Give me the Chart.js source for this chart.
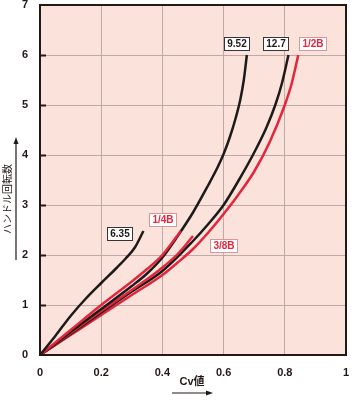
<!DOCTYPE html>
<html>
<head>
<meta charset="utf-8">
<script src="https://cdn.jsdelivr.net/npm/chart.js@4.4.1/dist/chart.umd.min.js"></script>
<style>
  html, body { margin: 0; padding: 0; background: #ffffff; }
  #wrap { width: 352px; height: 400px; position: relative; }
</style>
</head>
<body>
<div id="wrap"><canvas id="chart"></canvas></div>
<script>
// tick values
var cvTicks = [0, 0.2, 0.4, 0.6, 0.8, 1];
var turnTicks = [0, 1, 2, 3, 4, 5, 6, 7];

// Cv value vs handle turns
var cv635 = [0, 0.05, 0.1, 0.15, 0.2, 0.25, 0.28, 0.31, 0.338];
var turns635 = [0, 0.38, 0.78, 1.13, 1.44, 1.74, 1.93, 2.15, 2.48];

var cvQuarter = [0, 0.1, 0.2, 0.3, 0.35, 0.4, 0.46];
var turnsQuarter = [0, 0.5, 1.0, 1.47, 1.72, 2.0, 2.48];

var cv952 = [0, 0.1, 0.2, 0.3, 0.35, 0.4, 0.45, 0.5, 0.55, 0.58, 0.6, 0.62, 0.64, 0.655, 0.666, 0.676];
var turns952 = [0, 0.46, 0.92, 1.38, 1.63, 1.95, 2.38, 2.85, 3.4, 3.75, 4.02, 4.35, 4.75, 5.12, 5.5, 6.0];

var cvThreeEighth = [0, 0.1, 0.2, 0.3, 0.39, 0.45, 0.5];
var turnsThreeEighth = [0, 0.44, 0.88, 1.3, 1.7, 2.02, 2.38];

var cv127 = [0, 0.1, 0.2, 0.3, 0.4, 0.5, 0.55, 0.6, 0.65, 0.7, 0.74, 0.77, 0.79, 0.812];
var turns127 = [0, 0.42, 0.85, 1.27, 1.68, 2.28, 2.62, 3.0, 3.5, 4.05, 4.55, 5.02, 5.42, 6.0];

var cvHalf = [0, 0.1, 0.2, 0.3, 0.4, 0.45, 0.5, 0.55, 0.6, 0.65, 0.7, 0.75, 0.8, 0.822, 0.844];
var turnsHalf = [0, 0.4, 0.8, 1.2, 1.6, 1.85, 2.12, 2.45, 2.82, 3.22, 3.67, 4.25, 5.0, 5.42, 6.0];

// curve labels: text, anchor in data units (cv, turns)
var labelTexts = ['9.52', '12.7', '1/2B', '6.35', '1/4B', '3/8B'];
var labelCv = [0.641, 0.770, 0.892, 0.261, 0.400, 0.601];
var labelTurns = [6.23, 6.23, 6.23, 2.44, 2.71, 2.2];
var labelRed = [false, false, true, false, true, true];

var BLACK = '#1d1a1a';
var RED = '#e3263b';

(function () {
  function zip(xs, ys) {
    return xs.map(function (x, i) { return { x: x, y: ys[i] }; });
  }

  function curve(label, xs, ys, color) {
    return {
      label: label,
      data: zip(xs, ys),
      borderColor: color,
      backgroundColor: color,
      borderWidth: 2.5,
      pointRadius: 0,
      cubicInterpolationMode: 'monotone',
      fill: false,
    };
  }

  function drawArrow(ctx, x1, y1, x2, y2) {
    var ang = Math.atan2(y2 - y1, x2 - x1);
    ctx.beginPath();
    ctx.moveTo(x1, y1);
    ctx.lineTo(x2 - 4 * Math.cos(ang), y2 - 4 * Math.sin(ang));
    ctx.stroke();
    ctx.beginPath();
    ctx.moveTo(x2, y2);
    ctx.lineTo(x2 - 7 * Math.cos(ang) + 2.5 * Math.sin(ang), y2 - 7 * Math.sin(ang) - 2.5 * Math.cos(ang));
    ctx.lineTo(x2 - 7 * Math.cos(ang) - 2.5 * Math.sin(ang), y2 - 7 * Math.sin(ang) + 2.5 * Math.cos(ang));
    ctx.closePath();
    ctx.fill();
  }

  var decorPlugin = {
    id: 'decor',
    beforeDraw: function (chart) {
      var a = chart.chartArea;
      var ctx = chart.ctx;
      ctx.save();
      ctx.fillStyle = '#fbe2db';
      ctx.fillRect(a.left, a.top, a.right - a.left, a.bottom - a.top);
      ctx.restore();
    },
    afterDatasetsDraw: function (chart) {
      var a = chart.chartArea;
      var ctx = chart.ctx;
      var xs = chart.scales.x;
      var ys = chart.scales.y;
      ctx.save();

      // frame
      ctx.strokeStyle = '#231815';
      ctx.lineWidth = 2;
      ctx.strokeRect(a.left, a.top, a.right - a.left, a.bottom - a.top);

      // short tick marks inside the left edge
      turnTicks.forEach(function (t) {
        if (t === 0 || t === 7) return;
        var py = Math.round(ys.getPixelForValue(t)) + 0.5;
        ctx.beginPath();
        ctx.moveTo(a.left, py);
        ctx.lineTo(a.left + 6, py);
        ctx.stroke();
      });

      // curve labels
      ctx.font = 'bold 10px "Liberation Sans", Arial, sans-serif';
      ctx.textAlign = 'center';
      ctx.textBaseline = 'middle';
      labelTexts.forEach(function (txt, i) {
        var px = xs.getPixelForValue(labelCv[i]);
        var py = ys.getPixelForValue(labelTurns[i]);
        var w = Math.round(ctx.measureText(txt).width + 6);
        var h = 13;
        var bx = Math.round(px - w / 2);
        var by = Math.round(py - h / 2);
        ctx.fillStyle = '#ffffff';
        ctx.fillRect(bx, by, w, h);
        ctx.lineWidth = 1;
        ctx.strokeStyle = labelRed[i] ? '#d9959a' : '#3a3333';
        ctx.strokeRect(bx + 0.5, by + 0.5, w, h);
        ctx.fillStyle = labelRed[i] ? RED : '#1d1a1a';
        ctx.fillText(txt, bx + w / 2 + 0.5, by + h / 2 + 1);
      });

      // x axis title with arrow
      ctx.fillStyle = '#231815';
      ctx.strokeStyle = '#231815';
      ctx.font = 'bold 11px "Liberation Sans", "Noto Sans CJK JP", sans-serif';
      ctx.fillText('Cv値', 192, 382);
      ctx.lineWidth = 1.2;
      drawArrow(ctx, 172, 393, 213, 393);

      // y axis title with arrow
      drawArrow(ctx, 16, 260, 16, 137);
      ctx.translate(7, 199);
      ctx.rotate(-Math.PI / 2);
      ctx.font = '10px "Noto Sans CJK JP", sans-serif';
      ctx.fillText('ハンドル回転数', 0, 0);

      ctx.restore();
    },
  };

  var tickFont = { family: '"Liberation Sans", Arial, sans-serif', size: 11, weight: 'bold' };

  new Chart(document.getElementById('chart'), {
    type: 'line',
    data: {
      datasets: [
        curve('6.35', cv635, turns635, BLACK),
        curve('1/4B', cvQuarter, turnsQuarter, RED),
        curve('9.52', cv952, turns952, BLACK),
        curve('3/8B', cvThreeEighth, turnsThreeEighth, RED),
        curve('12.7', cv127, turns127, BLACK),
        curve('1/2B', cvHalf, turnsHalf, RED),
      ],
    },
    options: {
      responsive: true,
      maintainAspectRatio: false,
      animation: false,
      layout: { padding: { top: 5, right: 6, left: 0, bottom: 0 } },
      plugins: {
        legend: { display: false },
        tooltip: { enabled: false },
      },
      scales: {
        x: {
          type: 'linear',
          min: 0,
          max: 1,
          afterBuildTicks: function (s) { s.ticks = cvTicks.map(function (v) { return { value: v }; }); },
          afterFit: function (s) { s.height = 45; s.paddingLeft = 0; s.paddingRight = 0; },
          grid: { color: '#bcaaa6', lineWidth: 1, drawTicks: false },
          border: { display: false },
          ticks: {
            color: '#231815',
            font: tickFont,
            padding: 11,
            maxRotation: 0,
            callback: function (v) { return String(v); },
          },
        },
        y: {
          type: 'linear',
          min: 0,
          max: 7,
          afterBuildTicks: function (s) { s.ticks = turnTicks.map(function (v) { return { value: v }; }); },
          afterFit: function (s) { s.width = 40; s.paddingTop = 0; s.paddingBottom = 0; },
          grid: { color: '#bcaaa6', lineWidth: 1, drawTicks: false },
          border: { display: false },
          ticks: {
            color: '#231815',
            font: tickFont,
            padding: 12,
          },
        },
      },
    },
    plugins: [decorPlugin],
  });
})();
</script>
</body>
</html>
